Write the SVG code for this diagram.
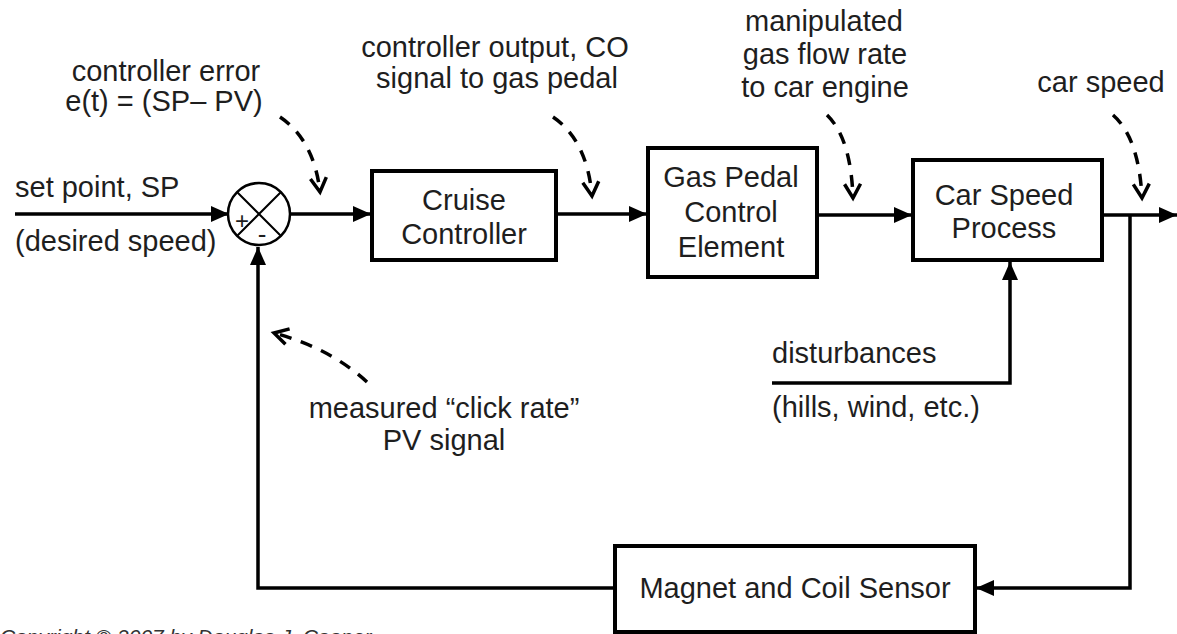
<svg xmlns="http://www.w3.org/2000/svg" width="1177" height="634" viewBox="0 0 1177 634">
<style>
text{font-family:"Liberation Sans",Arial,sans-serif;font-size:29px;fill:#1e1e1e}
.c{text-anchor:middle}
.box{fill:#fff;stroke:#000;stroke-width:4}
.ln{fill:none;stroke:#000;stroke-width:3.5}
.dash{fill:none;stroke:#000;stroke-width:3.5;stroke-dasharray:12 10}
</style>
<defs>
<marker id="ah" markerUnits="userSpaceOnUse" markerWidth="20" markerHeight="18" refX="18" refY="8" orient="auto" overflow="visible">
<path d="M0,0 L18,8 L0,16 z" fill="#000"/>
</marker>
<marker id="va" markerUnits="userSpaceOnUse" markerWidth="20" markerHeight="20" refX="0" refY="0" orient="auto" overflow="visible">
<path d="M-14,-8 L0,0 L-14,8" fill="none" stroke="#000" stroke-width="3.5"/>
</marker>
</defs>
<rect width="1177" height="634" fill="#fff"/>

<g id="connectors">
<path class="ln" d="M15,214 H229" marker-end="url(#ah)"/>
<path class="ln" d="M290,214 H371" marker-end="url(#ah)"/>
<path class="ln" d="M557,214 H647" marker-end="url(#ah)"/>
<path class="ln" d="M818,215 H912" marker-end="url(#ah)"/>
<path class="ln" d="M1102,215 H1177" marker-end="url(#ah)"/>
<path class="ln" d="M1130,215 V588 H976" marker-end="url(#ah)"/>
<path class="ln" d="M614,588 H258 V247" marker-end="url(#ah)"/>
<path class="ln" d="M772,383 H1010 V262" marker-end="url(#ah)"/>
<path class="dash" d="M280,117 Q314,140 320,192" marker-end="url(#va)"/>
<path class="dash" d="M553,117 Q587,140 592,196" marker-end="url(#va)"/>
<path class="dash" d="M827,115 Q851,138 853,198" marker-end="url(#va)"/>
<path class="dash" d="M1113,115 Q1139,138 1142,198" marker-end="url(#va)"/>
<path class="dash" d="M367,382 Q330,348 274,333" marker-end="url(#va)"/>
</g>

<g id="sum">
<circle cx="259" cy="214" r="31" fill="#fff" stroke="#000" stroke-width="2.5"/>
<path d="M237,192 L281,236 M281,192 L237,236" stroke="#000" stroke-width="2" fill="none"/>
<text x="242" y="229" class="c" style="font-size:24px">+</text>
<text x="262" y="243" class="c" style="font-size:26px">-</text>
</g>

<g id="cruise">
<rect class="box" x="372" y="171" width="184" height="89"/>
<text x="464" y="210" class="c">Cruise</text>
<text x="464" y="244" class="c">Controller</text>
</g>

<g id="gaspedal">
<rect class="box" x="648" y="148" width="169" height="129"/>
<text x="731" y="187" class="c">Gas Pedal</text>
<text x="731" y="222" class="c">Control</text>
<text x="731" y="257" class="c">Element</text>
</g>

<g id="carspeed">
<rect class="box" x="913" y="160" width="189" height="100"/>
<text x="1004" y="205" class="c">Car Speed</text>
<text x="1004" y="238" class="c">Process</text>
</g>

<g id="sensor">
<rect class="box" x="615" y="546" width="360" height="86"/>
<text x="795" y="598" class="c">Magnet and Coil Sensor</text>
</g>

<g id="labels">
<text x="166" y="81" class="c">controller error</text>
<text x="164" y="111" class="c">e(t) = (SP– PV)</text>
<text x="495" y="57" class="c">controller output, CO</text>
<text x="497" y="88" class="c">signal to gas pedal</text>
<text x="824" y="31" class="c">manipulated</text>
<text x="825" y="64" class="c">gas flow rate</text>
<text x="825" y="97" class="c">to car engine</text>
<text x="1101" y="92" class="c">car speed</text>
<text x="15" y="197">set point, SP</text>
<text x="15" y="251">(desired speed)</text>
<text x="444" y="418" class="c">measured “click rate”</text>
<text x="444" y="450" class="c">PV signal</text>
<text x="772" y="363">disturbances</text>
<text x="772" y="417">(hills, wind, etc.)</text>
<text x="0" y="644" style="font-size:21px;font-style:italic;fill:#333">Copyright © 2007 by Douglas J. Cooper</text>
</g>
</svg>
